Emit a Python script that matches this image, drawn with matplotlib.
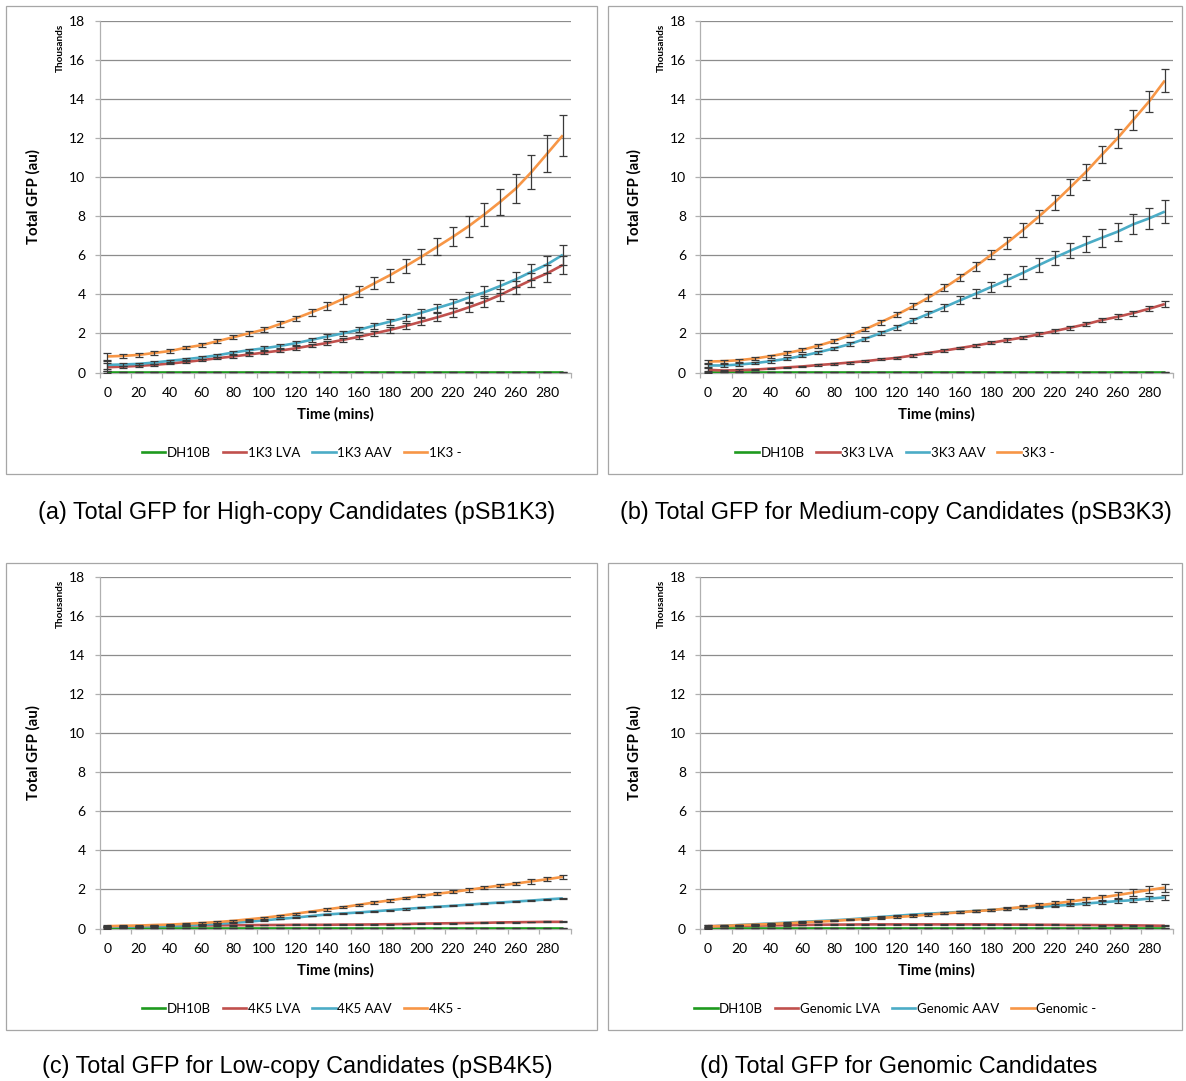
import matplotlib
matplotlib.use("Agg")
import matplotlib.pyplot as plt
from matplotlib.patches import Rectangle
from matplotlib.lines import Line2D
import numpy as np

# ---------------- data (values in thousands) ----------------
time_min = list(range(0, 300, 10))
xtick_labels = [str(v) for v in range(0, 300, 20)]
ytick_values = list(range(0, 20, 2))

dh10b = [0.03] * 30
dh10b_err = [0.06] + [0.02] * 29

# (a) pSB1K3
a_lva = [0.27, 0.30, 0.34, 0.39, 0.46, 0.54, 0.63, 0.73, 0.82, 0.92, 1.02, 1.12, 1.24, 1.38, 1.51,
         1.67, 1.82, 2.00, 2.18, 2.38, 2.60, 2.82, 3.06, 3.33, 3.62, 3.96, 4.35, 4.73, 5.07, 5.50]
a_lva_err = [0.20, 0.05, 0.05, 0.05, 0.05, 0.05, 0.06, 0.06, 0.07, 0.07, 0.08, 0.08, 0.09, 0.09, 0.10,
             0.11, 0.12, 0.13, 0.15, 0.16, 0.18, 0.20, 0.22, 0.25, 0.28, 0.31, 0.34, 0.38, 0.42, 0.47]
a_aav = [0.39, 0.41, 0.44, 0.51, 0.60, 0.68, 0.77, 0.88, 1.02, 1.14, 1.24, 1.36, 1.50, 1.67, 1.84,
         2.00, 2.18, 2.40, 2.60, 2.82, 3.06, 3.30, 3.54, 3.83, 4.10, 4.42, 4.76, 5.15, 5.53, 6.02]
a_aav_err = [0.22, 0.06, 0.06, 0.06, 0.06, 0.06, 0.07, 0.07, 0.08, 0.08, 0.09, 0.09, 0.10, 0.10, 0.11,
             0.12, 0.13, 0.15, 0.16, 0.18, 0.20, 0.22, 0.24, 0.27, 0.30, 0.33, 0.37, 0.40, 0.44, 0.50]
a_none = [0.82, 0.85, 0.90, 1.00, 1.10, 1.27, 1.40, 1.60, 1.80, 2.00, 2.20, 2.48, 2.77, 3.08, 3.40,
          3.76, 4.13, 4.56, 4.98, 5.44, 5.92, 6.43, 6.94, 7.48, 8.08, 8.72, 9.40, 10.25, 11.19, 12.13]
a_none_err = [0.18, 0.09, 0.09, 0.09, 0.09, 0.09, 0.10, 0.10, 0.10, 0.11, 0.12, 0.13, 0.14, 0.17, 0.20,
              0.24, 0.27, 0.30, 0.33, 0.35, 0.38, 0.44, 0.48, 0.54, 0.61, 0.68, 0.75, 0.85, 0.94, 1.04]

# (b) pSB3K3
b_lva = [0.14, 0.10, 0.12, 0.15, 0.20, 0.26, 0.31, 0.38, 0.44, 0.51, 0.58, 0.67, 0.75, 0.87, 1.00,
         1.12, 1.25, 1.38, 1.52, 1.66, 1.79, 1.95, 2.12, 2.29, 2.47, 2.68, 2.85, 3.04, 3.26, 3.50]
b_lva_err = [0.12, 0.04, 0.04, 0.04, 0.04, 0.04, 0.04, 0.04, 0.05, 0.05, 0.05, 0.05, 0.06, 0.06, 0.06,
             0.07, 0.07, 0.08, 0.08, 0.09, 0.09, 0.10, 0.10, 0.11, 0.11, 0.12, 0.12, 0.13, 0.14, 0.15]
b_aav = [0.36, 0.36, 0.41, 0.48, 0.58, 0.70, 0.85, 1.03, 1.23, 1.45, 1.73, 2.02, 2.32, 2.66, 3.00,
         3.34, 3.69, 4.03, 4.38, 4.73, 5.10, 5.49, 5.87, 6.23, 6.57, 6.89, 7.20, 7.58, 7.88, 8.23]
b_aav_err = [0.12, 0.07, 0.07, 0.07, 0.07, 0.08, 0.08, 0.09, 0.09, 0.10, 0.11, 0.12, 0.13, 0.14, 0.16,
             0.18, 0.20, 0.23, 0.26, 0.30, 0.34, 0.34, 0.36, 0.39, 0.41, 0.45, 0.47, 0.52, 0.55, 0.60]
b_none = [0.56, 0.58, 0.63, 0.72, 0.84, 0.99, 1.16, 1.37, 1.61, 1.90, 2.22, 2.58, 2.96, 3.38, 3.83,
          4.33, 4.86, 5.43, 6.03, 6.64, 7.29, 7.97, 8.69, 9.47, 10.26, 11.13, 11.98, 12.92, 13.86, 14.93]
b_none_err = [0.10, 0.08, 0.08, 0.08, 0.08, 0.09, 0.09, 0.10, 0.10, 0.11, 0.12, 0.13, 0.14, 0.15, 0.17,
              0.18, 0.20, 0.22, 0.25, 0.30, 0.34, 0.34, 0.37, 0.40, 0.41, 0.44, 0.49, 0.51, 0.53, 0.58]

# (c) pSB4K5
c_lva = [0.10, 0.11, 0.12, 0.13, 0.14, 0.15, 0.16, 0.16, 0.17, 0.17, 0.18, 0.18, 0.19, 0.19, 0.19,
         0.20, 0.20, 0.21, 0.22, 0.23, 0.25, 0.26, 0.27, 0.28, 0.29, 0.31, 0.32, 0.33, 0.34, 0.34]
c_lva_err = [0.05] + [0.02] * 29
c_aav = [0.10, 0.10, 0.11, 0.12, 0.14, 0.16, 0.20, 0.24, 0.29, 0.35, 0.42, 0.49, 0.56, 0.64, 0.72,
         0.77, 0.82, 0.88, 0.94, 1.00, 1.06, 1.11, 1.16, 1.22, 1.28, 1.33, 1.38, 1.43, 1.49, 1.54]
c_aav_err = [0.04, 0.02, 0.02, 0.02, 0.02, 0.02, 0.02, 0.02, 0.02, 0.02, 0.02, 0.02, 0.02, 0.02, 0.02,
             0.02, 0.02, 0.02, 0.02, 0.03, 0.03, 0.03, 0.03, 0.03, 0.03, 0.03, 0.03, 0.03, 0.04, 0.04]
c_none = [0.12, 0.14, 0.15, 0.18, 0.20, 0.24, 0.28, 0.33, 0.39, 0.47, 0.55, 0.65, 0.76, 0.87, 0.98,
          1.09, 1.21, 1.33, 1.44, 1.56, 1.67, 1.78, 1.87, 1.98, 2.09, 2.20, 2.30, 2.41, 2.52, 2.64]
c_none_err = [0.06, 0.02, 0.02, 0.02, 0.03, 0.03, 0.03, 0.03, 0.04, 0.04, 0.04, 0.05, 0.05, 0.05, 0.06,
              0.06, 0.06, 0.07, 0.07, 0.07, 0.08, 0.08, 0.08, 0.09, 0.09, 0.10, 0.10, 0.11, 0.11, 0.12]

# (d) Genomic
d_lva = [0.12, 0.13, 0.14, 0.15, 0.16, 0.17, 0.18, 0.19, 0.20, 0.20, 0.21, 0.21, 0.21, 0.21, 0.21,
         0.21, 0.21, 0.21, 0.21, 0.20, 0.20, 0.19, 0.19, 0.18, 0.18, 0.17, 0.17, 0.16, 0.15, 0.14]
d_lva_err = [0.05] + [0.02] * 29
d_aav = [0.10, 0.14, 0.18, 0.22, 0.26, 0.30, 0.34, 0.38, 0.42, 0.47, 0.53, 0.59, 0.65, 0.71, 0.76,
         0.80, 0.85, 0.90, 0.95, 1.02, 1.07, 1.11, 1.16, 1.21, 1.28, 1.34, 1.40, 1.45, 1.53, 1.59]
d_aav_err = [0.05, 0.02, 0.02, 0.02, 0.02, 0.02, 0.02, 0.02, 0.02, 0.02, 0.03, 0.03, 0.03, 0.03, 0.04,
             0.04, 0.04, 0.05, 0.05, 0.05, 0.06, 0.06, 0.07, 0.07, 0.08, 0.09, 0.09, 0.10, 0.11, 0.12]
d_none = [0.10, 0.13, 0.17, 0.20, 0.23, 0.27, 0.31, 0.35, 0.39, 0.44, 0.49, 0.54, 0.59, 0.64, 0.71,
          0.77, 0.83, 0.89, 0.94, 1.02, 1.10, 1.19, 1.28, 1.38, 1.49, 1.59, 1.71, 1.84, 1.97, 2.09]
d_none_err = [0.08, 0.02, 0.02, 0.02, 0.02, 0.02, 0.03, 0.03, 0.03, 0.03, 0.04, 0.04, 0.04, 0.05, 0.05,
              0.05, 0.06, 0.06, 0.07, 0.08, 0.09, 0.10, 0.11, 0.12, 0.13, 0.14, 0.15, 0.17, 0.18, 0.20]

legend_labels = {
    "a": ["DH10B", "1K3 LVA", "1K3 AAV", "1K3 -"],
    "b": ["DH10B", "3K3 LVA", "3K3 AAV", "3K3 -"],
    "c": ["DH10B", "4K5 LVA", "4K5 AAV", "4K5 -"],
    "d": ["DH10B", "Genomic LVA", "Genomic AAV", "Genomic -"],
}
captions = {
    "a": "(a) Total GFP for High-copy Candidates (pSB1K3)",
    "b": "(b) Total GFP for Medium-copy Candidates (pSB3K3)",
    "c": "(c) Total GFP for Low-copy Candidates (pSB4K5)",
    "d": "(d) Total GFP for Genomic Candidates",
}
series = {
    "a": [(dh10b, dh10b_err), (a_lva, a_lva_err), (a_aav, a_aav_err), (a_none, a_none_err)],
    "b": [(dh10b, dh10b_err), (b_lva, b_lva_err), (b_aav, b_aav_err), (b_none, b_none_err)],
    "c": [(dh10b, dh10b_err), (c_lva, c_lva_err), (c_aav, c_aav_err), (c_none, c_none_err)],
    "d": [(dh10b, dh10b_err), (d_lva, d_lva_err), (d_aav, d_aav_err), (d_none, d_none_err)],
}

# ---------------- style ----------------
colors = ["#1e9a1e", "#c0504d", "#4bacc6", "#f79646"]
W, H = 1186, 1081
CHART_FONT = ["Lato", "DejaVu Sans"]
CAP_FONT = ["Liberation Sans", "DejaVu Sans"]
plt.rcParams["font.family"] = CHART_FONT

fig = plt.figure(figsize=(W / 100, H / 100), dpi=100)

# pixel layout: (axes left, axes right, y of 0-line, box left, box right, box top, box bottom, caption center x, caption y)
layout = {
    "a": (99.5, 570.7, 372.5, 6, 597, 6, 474, 297, 512),
    "b": (700.0, 1172.7, 372.5, 608, 1182, 6, 474, 896, 512),
    "c": (99.5, 570.7, 928.5, 6, 597, 563, 1030, 297, 1067),
    "d": (700.0, 1172.7, 928.5, 608, 1182, 563, 1030, 899, 1067),
}
grid_color = "#8c8c8c"
axis_color = "#b0b0b0"

for key in ["a", "b", "c", "d"]:
    axl, axr, y0, bl, br, bt, bb, capx, capy = layout[key]
    # panel box
    fig.patches.append(Rectangle((bl / W, 1 - bb / H), (br - bl) / W, (bb - bt) / H,
                                 transform=fig.transFigure, fill=False,
                                 edgecolor="#a6a6a6", linewidth=0.9))
    ax = fig.add_axes([axl / W, 1 - y0 / H, (axr - axl) / W, 352 / H])
    for i, (vals, errs) in enumerate(series[key]):
        ax.plot(time_min, vals, color=colors[i], linewidth=1.9, zorder=3 + i,
                solid_capstyle="butt")
    for i, (vals, errs) in enumerate(series[key]):
        ax.errorbar(time_min, vals, yerr=errs, fmt="none", ecolor="#3a3a3a",
                    elinewidth=0.9, capsize=2.6, capthick=0.9, zorder=8)
    ax.set_xlim(-5, 295)
    ax.set_ylim(0, 18)
    ax.set_yticks(ytick_values)
    ax.set_yticklabels([str(v) for v in ytick_values], fontsize=10)
    ax.yaxis.grid(True, color=grid_color, linewidth=0.9)
    ax.set_axisbelow(True)
    ax.set_xticks(list(range(0, 300, 20)))
    ax.set_xticklabels(xtick_labels, fontsize=10)
    ax.set_xticks(list(range(-5, 300, 20)), minor=True)
    ax.tick_params(axis="x", which="major", length=0, pad=10.5)
    ax.tick_params(axis="x", which="minor", length=3.6, width=0.9, color=axis_color, direction="out")
    ax.tick_params(axis="y", length=3.6, width=0.9, color=axis_color, pad=6.5)
    for s in ["top", "right"]:
        ax.spines[s].set_visible(False)
    for s in ["left", "bottom"]:
        ax.spines[s].set_color(axis_color)
        ax.spines[s].set_linewidth(0.9)
    ax.set_facecolor("none")

    # axis titles
    fig.text((axl + (axr - axl) / 2) / W, 1 - (y0 + 42) / H,
             "Time (mins)", ha="center", va="center", fontsize=10.8, fontweight="bold")
    fig.text((axl - 66) / W, 1 - (y0 - 176) / H, "Total GFP (au)", rotation=90,
             ha="center", va="center", fontsize=10.8, fontweight="bold")
    fig.text((axl - 39) / W, 1 - (y0 - 325) / H, "Thousands", rotation=90,
             ha="center", va="center", fontsize=7.2, fontweight="bold")

    # legend
    handles = [Line2D([0], [0], color=c, linewidth=1.9) for c in colors]
    fig.legend(handles, legend_labels[key], loc="center",
               bbox_to_anchor=(((bl + br) / 2) / W, 1 - (y0 + 80.5) / H),
               ncol=4, frameon=False, fontsize=9.5, handlelength=1.8,
               handletextpad=0.1, columnspacing=0.9, borderaxespad=0)

    # caption
    fig.text(capx / W, 1 - capy / H, captions[key], ha="center", va="center",
             fontsize=16.8, family=CAP_FONT)

fig.savefig("out.png", dpi=100)
